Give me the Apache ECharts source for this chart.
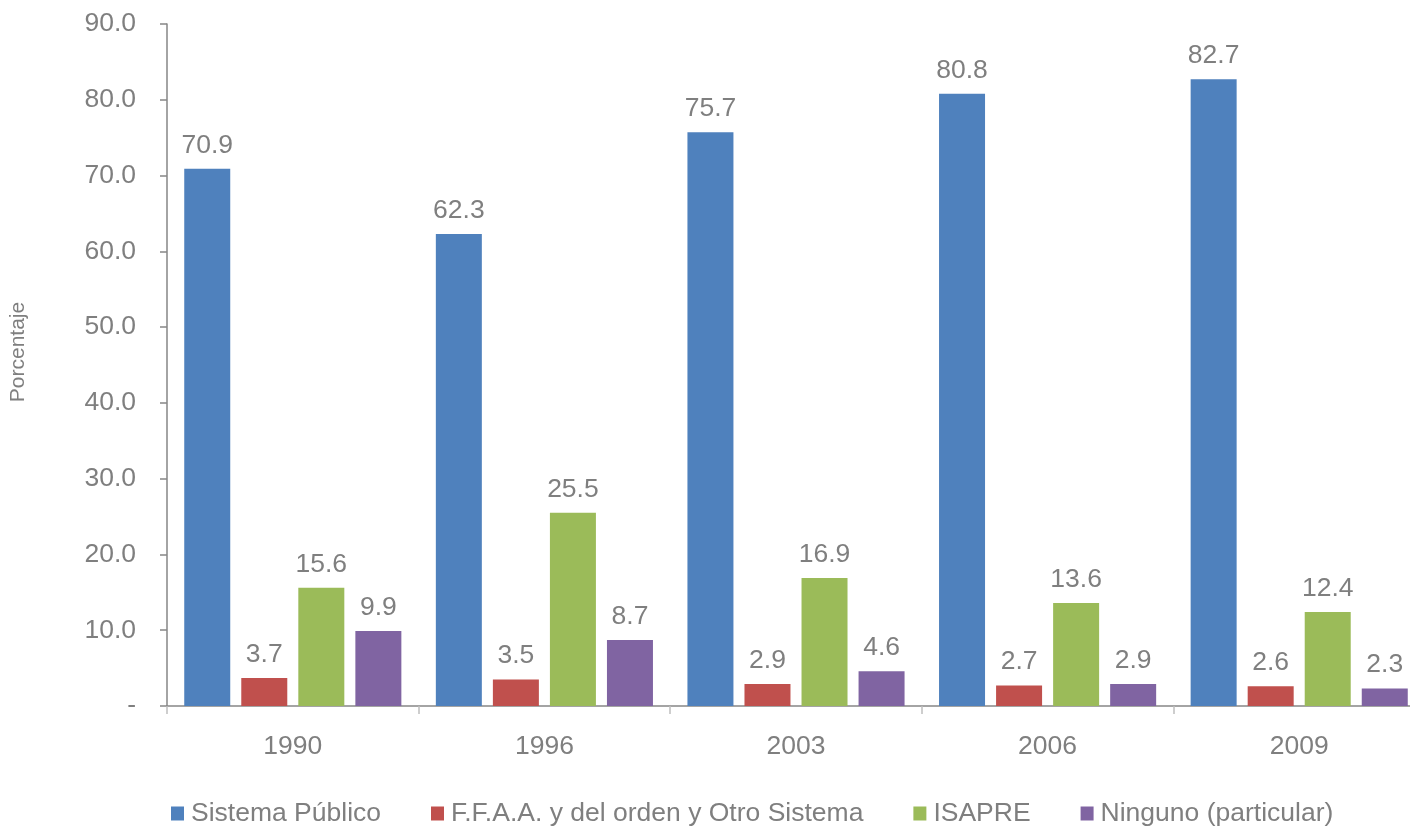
<!DOCTYPE html>
<html><head><meta charset="utf-8">
<script src="https://cdn.jsdelivr.net/npm/echarts@6/dist/echarts.min.js"></script>
<style>html,body{margin:0;padding:0;background:#fff}#c{width:1410px;height:827px}</style>
</head><body><div id="c"></div>
<script>
const categories = ['1990','1996','2003','2006','2009'];
const seriesNames = ['Sistema Público','F.F.A.A. y del orden y Otro Sistema','ISAPRE','Ninguno (particular)'];
const sistemaPublico = [70.9, 62.3, 75.7, 80.8, 82.7];
const ffaa = [3.7, 3.5, 2.9, 2.7, 2.6];
const isapre = [15.6, 25.5, 16.9, 13.6, 12.4];
const ninguno = [9.9, 8.7, 4.6, 2.9, 2.3];
const yAxisTitle = 'Porcentaje';
const colors = ['#4F81BD','#C0504D','#9BBB59','#8064A2'];
const values = [sistemaPublico, ffaa, isapre, ninguno];
const font = 'Liberation Sans, Arial, sans-serif';
const grey = '#7f7f7f';
const fs = 26.5;

const chart = echarts.init(document.getElementById('c'));
chart.setOption({
  animation: false,
  textStyle: {fontFamily: font},
  grid: {left: 167, top: 24, width: 1258, height: 682, containLabel: false, outerBoundsMode: 'none'},
  graphic: [{
    type: 'text', x: 18, y: 352, rotation: Math.PI / 2,
    style: {text: yAxisTitle, fontSize: 21, fill: grey, fontFamily: font, align: 'center', verticalAlign: 'middle'}
  }],
  legend: {
    left: 166, top: 795, itemWidth: 13, itemHeight: 14, itemGap: 50,
    icon: 'rect',
    textStyle: {fontSize: 26.5, color: grey, fontFamily: font, padding: [0, 0, 0, 2]},
    data: seriesNames
  },
  xAxis: {
    type: 'category', data: categories,
    axisLine: {lineStyle: {color: '#868686', width: 1.5}},
    axisTick: {show: true, alignWithLabel: false, length: 8, lineStyle: {color: '#bfbfbf', width: 1.5}},
    axisLabel: {fontSize: fs, color: grey, margin: 27, fontFamily: font}
  },
  yAxis: {
    type: 'value', min: 0, max: 90, interval: 10,
    splitLine: {show: false},
    axisLine: {show: true, lineStyle: {color: '#868686', width: 1.5}},
    axisTick: {show: true, length: 7, lineStyle: {color: '#868686', width: 1.5}},
    axisLabel: {fontSize: fs, color: grey, margin: 31, fontFamily: font,
      formatter: v => v === 0 ? '-' : v.toFixed(1)}
  },
  series: seriesNames.map((n, i) => ({
    name: n, type: 'bar', data: values[i], barWidth: 46, barGap: '24%',
    itemStyle: {color: colors[i]},
    label: {show: true, position: 'top', distance: 10, fontSize: fs, color: grey, fontFamily: font,
      formatter: p => p.value.toFixed(1)}
  }))
});
</script></body></html>
